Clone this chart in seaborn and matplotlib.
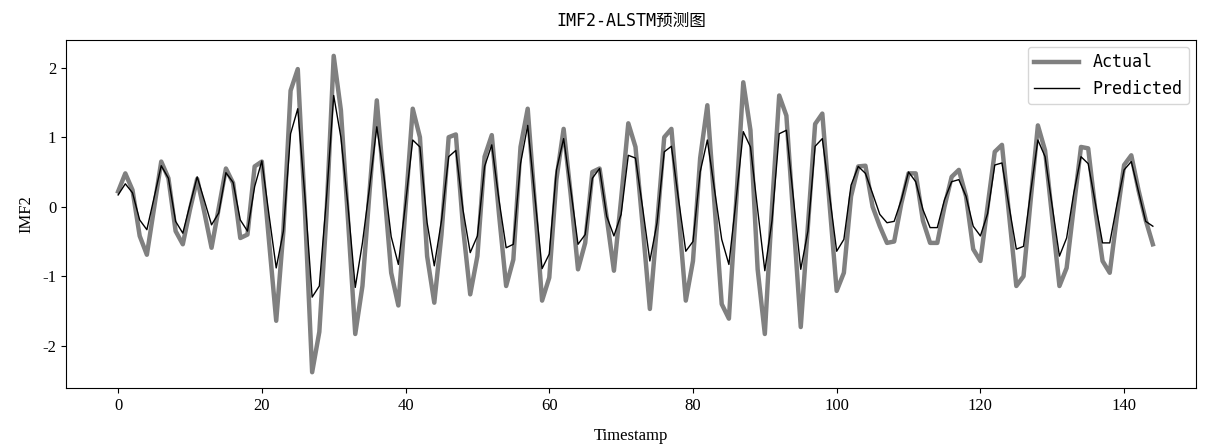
import matplotlib
matplotlib.use("Agg")
import matplotlib.pyplot as plt
import numpy as np
import pandas as pd
import seaborn as sns

actual = [
    0.22, 0.48, 0.24, -0.42, -0.69, -0.02, 0.65, 0.41, -0.35, -0.54,
    -0.04, 0.40, -0.08, -0.59, -0.02, 0.55, 0.34, -0.45, -0.40, 0.58,
    0.65, -0.50, -1.64, -0.35, 1.67, 1.98, -0.06, -2.38, -1.80, -0.11,
    2.17, 1.39, -0.20, -1.83, -1.14, 0.23, 1.53, 0.29, -0.95, -1.42,
    0.00, 1.41, 1.00, -0.71, -1.38, -0.40, 1.00, 1.04, -0.30, -1.26,
    -0.71, 0.72, 1.03, -0.10, -1.14, -0.76, 0.86, 1.41, 0.04, -1.35,
    -1.02, 0.40, 1.12, 0.16, -0.90, -0.52, 0.50, 0.55, -0.16, -0.92,
    0.11, 1.20, 0.86, -0.28, -1.47, -0.26, 1.00, 1.12, -0.10, -1.35,
    -0.78, 0.70, 1.46, 0.03, -1.40, -1.61, 0.05, 1.79, 1.10, -0.90,
    -1.83, 0.00, 1.60, 1.31, -0.20, -1.73, -0.28, 1.19, 1.34, 0.05,
    -1.21, -0.95, 0.15, 0.58, 0.59, 0.00, -0.28, -0.52, -0.50, 0.05,
    0.48, 0.48, -0.20, -0.52, -0.52, 0.00, 0.43, 0.53, 0.15, -0.61,
    -0.78, 0.00, 0.79, 0.89, -0.13, -1.14, -1.00, 0.10, 1.17, 0.81,
    -0.16, -1.14, -0.88, 0.00, 0.86, 0.84, -0.05, -0.78, -0.95, -0.14,
    0.60, 0.74, 0.24, -0.19, -0.54,
]

predicted = [
    0.17, 0.33, 0.20, -0.19, -0.33, 0.13, 0.59, 0.41, -0.21, -0.38,
    0.03, 0.43, 0.09, -0.26, -0.09, 0.49, 0.35, -0.19, -0.35, 0.29,
    0.66, -0.12, -0.88, -0.35, 1.05, 1.41, 0.14, -1.30, -1.14, 0.13,
    1.60, 1.00, 0.00, -1.16, -0.52, 0.29, 1.15, 0.43, -0.43, -0.83,
    0.05, 0.96, 0.86, -0.23, -0.85, -0.20, 0.72, 0.81, -0.05, -0.66,
    -0.42, 0.58, 0.89, 0.10, -0.59, -0.54, 0.62, 1.17, 0.14, -0.89,
    -0.68, 0.53, 0.98, 0.24, -0.54, -0.40, 0.41, 0.55, -0.14, -0.42,
    -0.11, 0.74, 0.70, -0.02, -0.78, -0.23, 0.79, 0.87, 0.10, -0.64,
    -0.50, 0.50, 0.96, 0.24, -0.47, -0.83, 0.10, 1.08, 0.86, -0.04,
    -0.92, -0.20, 1.05, 1.10, 0.10, -0.90, -0.35, 0.87, 0.98, 0.17,
    -0.64, -0.47, 0.31, 0.58, 0.48, 0.19, -0.11, -0.23, -0.21, 0.10,
    0.50, 0.36, -0.04, -0.30, -0.30, 0.10, 0.36, 0.39, 0.15, -0.28,
    -0.42, -0.10, 0.60, 0.63, 0.00, -0.61, -0.57, 0.22, 0.96, 0.72,
    0.00, -0.71, -0.45, 0.20, 0.72, 0.62, 0.05, -0.52, -0.52, 0.03,
    0.53, 0.65, 0.22, -0.21, -0.28,
]

timestamp = np.arange(len(actual))

plt.rcParams["axes.unicode_minus"] = False
serif = ["Liberation Serif", "DejaVu Serif"]
mono = ["DejaVu Sans Mono", "Noto Sans CJK SC"]

df = pd.DataFrame({"Timestamp": timestamp, "Actual": actual, "Predicted": predicted})

fig = plt.figure(figsize=(12.05, 4.45), dpi=100)
ax = fig.add_axes([0.0548, 0.128, 0.9377, 0.782])

sns.lineplot(data=df, x="Timestamp", y="Actual", ax=ax,
             color="#808080", linewidth=3.2, label="Actual")
sns.lineplot(data=df, x="Timestamp", y="Predicted", ax=ax,
             color="black", linewidth=1.0, label="Predicted")

ax.set_xlim(-7.25, 150)
ax.set_title("IMF2-ALSTM预测图", fontsize=12, family=mono,
             fontstretch="condensed", pad=10)
ax.set_xlabel("Timestamp", fontsize=12, family=serif, labelpad=10)
ax.set_ylabel("IMF2", fontsize=12, family=serif, labelpad=6)
ax.set_yticks([-2, -1, 0, 1, 2])

for lab in ax.get_xticklabels() + ax.get_yticklabels():
    lab.set_family(serif)
    lab.set_fontsize(12)

ax.legend(loc="upper right", prop={"family": mono, "size": 12},
          handlelength=2.7, borderaxespad=0.4)

fig.savefig("out.png", dpi=100)
